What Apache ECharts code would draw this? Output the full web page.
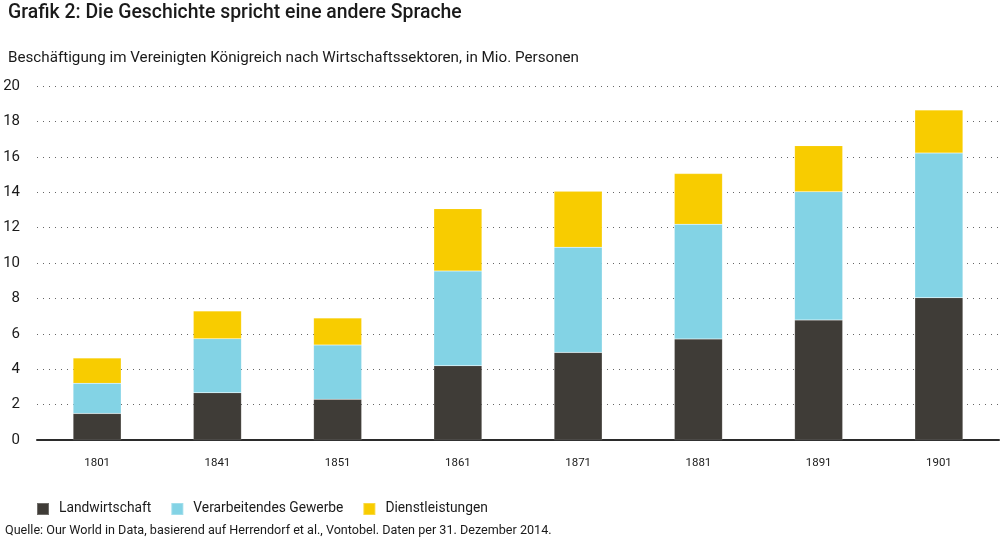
<!DOCTYPE html>
<html>
<head>
<meta charset="utf-8">
<script src="https://cdn.jsdelivr.net/npm/echarts@6/dist/echarts.min.js"></script>
<style>
html,body{margin:0;padding:0;background:#fff;}
#c{width:1001px;height:540px;}
</style>
</head>
<body>
<div id="c"></div>
<script>
const years = ['1801','1841','1851','1861','1871','1881','1891','1901'];
const landwirtschaft = [1.5, 2.67, 2.3, 4.2, 4.95, 5.71, 6.78, 8.04];
const verarbeitendes = [1.7, 3.05, 3.07, 5.35, 5.94, 6.48, 7.25, 8.17];
const dienstleistungen = [1.43, 1.57, 1.52, 3.52, 3.16, 2.86, 2.6, 2.43];
const yTicks = [0, 2, 4, 6, 8, 10, 12, 14, 16, 18, 20];

const FONT = 'Roboto, "Liberation Sans", sans-serif';
const chart = echarts.init(document.getElementById('c'), null, {renderer: 'canvas'});
const mk = (name, data, color) => ({
  name, type: 'bar', stack: 'total', data, barWidth: '40%',
  itemStyle: {color, borderColor: 'rgba(255,255,255,0.25)', borderWidth: 0.5},
  emphasis: {disabled: true}
});
chart.setOption({
  animation: false,
  textStyle: {fontFamily: FONT},
  title: [
    {text: 'Grafik 2: Die Geschichte spricht eine andere Sprache', left: 3, top: -1,
     textStyle: {fontFamily: FONT, fontSize: 19.4, fontWeight: 500, color: '#1a1a1a'}},
    {text: 'Beschäftigung im Vereinigten Königreich nach Wirtschaftssektoren, in Mio. Personen', left: 3, top: 46,
     textStyle: {fontFamily: FONT, fontSize: 15.2, fontWeight: 'normal', color: '#1a1a1a'}},
    {text: 'Quelle: Our World in Data, basierend auf Herrendorf et al., Vontobel. Daten per 31. Dezember 2014.', left: 0, top: 519,
     textStyle: {fontFamily: FONT, fontSize: 12.6, fontWeight: 'normal', color: '#1a1a1a'}}
  ],
  legend: {
    left: 31, top: 497, itemWidth: 12, itemHeight: 12, itemGap: 19,
    icon: 'rect',
    textStyle: {fontFamily: FONT, fontSize: 13.8, color: '#1a1a1a', padding: [0, 0, 0, 5]},
    data: ['Landwirtschaft', 'Verarbeitendes Gewerbe', 'Dienstleistungen']
  },
  grid: {left: 37, right: 2, top: 86, bottom: 100, containLabel: false},
  xAxis: {
    type: 'category', data: years,
    axisTick: {show: false},
    axisLine: {lineStyle: {color: '#2b2b2b', width: 2}},
    axisLabel: {color: '#1a1a1a', fontSize: 11.5, margin: 17, fontFamily: FONT}
  },
  yAxis: {
    type: 'value', min: yTicks[0], max: yTicks[yTicks.length - 1], interval: 2,
    axisLine: {show: false}, axisTick: {show: false},
    axisLabel: {color: '#1a1a1a', fontSize: 15, margin: 17, fontFamily: FONT},
    splitLine: {lineStyle: {color: '#666', type: [1, 5], width: 1}}
  },
  series: [
    mk('Landwirtschaft', landwirtschaft, '#3f3c37'),
    mk('Verarbeitendes Gewerbe', verarbeitendes, '#83d3e5'),
    mk('Dienstleistungen', dienstleistungen, '#f8cc00')
  ]
});
</script>
</body>
</html>
